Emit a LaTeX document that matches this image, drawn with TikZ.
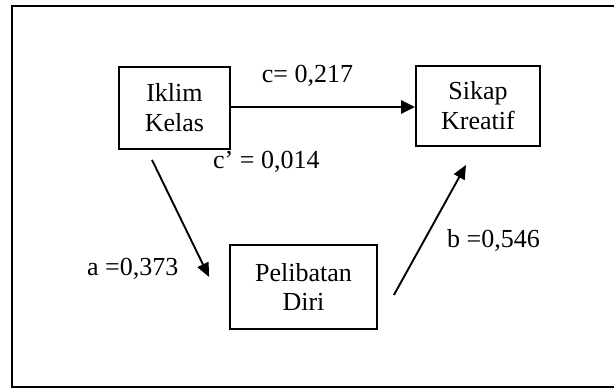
\documentclass[tikz,border=0pt]{standalone}
\usepackage{fontspec}
\setmainfont{Liberation Serif}
\usetikzlibrary{arrows.meta,calc}
\begin{document}
\begin{tikzpicture}[x=1pt,y=-1pt,
  every node/.style={font=\fontsize{26}{30}\selectfont},
  varbox/.style={draw,line width=1.8pt,align=center,inner sep=0pt},
  lbl/.style={inner sep=0pt},
  conn/.style={line width=1.9pt,-{Triangle[length=14pt,width=12pt]}},
  connh/.style={line width=2.5pt,-{Triangle[length=14pt,width=13pt]}}]
\useasboundingbox (0,0) rectangle (614,389);
\draw[line width=2.8pt] (616,6) -- (12,6) -- (12,387) -- (616,387);
\node[varbox,minimum width=111pt,minimum height=82pt] (iklim) at (174.5,108) {Iklim\\Kelas};
\node[varbox,minimum width=124pt,minimum height=80pt] (sikap) at (478,106) {Sikap\\Kreatif};
\node[varbox,minimum width=147pt,minimum height=84pt] (peli) at (303.5,287) {Pelibatan\\Diri};
\coordinate (hs) at ($(iklim.east)+(0,-1)$);
\draw[connh] (hs) -- (hs -| sikap.west);
\draw[conn] ($(iklim.south)+(-22.5,10)$) -- ($(peli.west)+(-20,-10)$);
\draw[conn] ($(peli.east)+(16,8)$) -- ($(sikap.south)+(-12,18)$);
\node[lbl,anchor=base] (lc) at (307.5,82) {c= 0,217};
\node[lbl,anchor=base west] (lcp) at (213,168) {c’ = 0,014};
\node[lbl,anchor=base west] (la) at (87,275) {a =0,373};
\node[lbl,anchor=base west] (lb) at (447,247) {b =0,546};
\end{tikzpicture}
\end{document}
